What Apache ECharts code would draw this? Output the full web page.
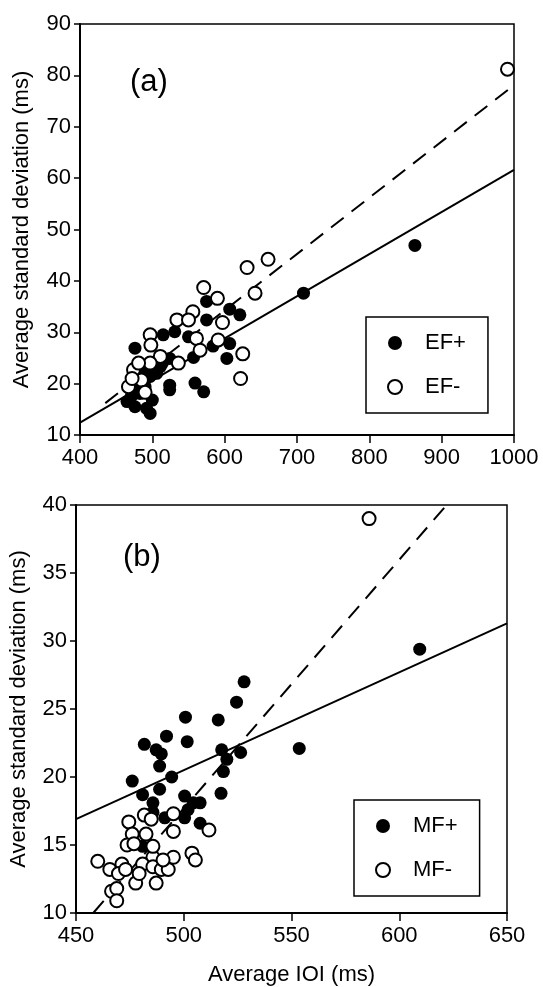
<!DOCTYPE html>
<html>
<head>
<meta charset="utf-8">
<script src="https://cdn.jsdelivr.net/npm/echarts@6/dist/echarts.min.js"></script>
<style>
  html, body { margin: 0; padding: 0; background: #fff; }
  #chart { width: 543px; height: 987px; }
</style>
</head>
<body>
<div id="chart"></div>
<script>
// panel (a): IOI vs SD, EF groups
const efPlus = [
  [863, 46.9], [709, 37.6], [575, 36.0], [575, 32.4], [607, 34.5], [621, 33.4],
  [584, 27.3], [607, 27.8], [603, 24.9], [557, 25.1], [515, 29.5], [531, 30.1],
  [550, 29.1], [476, 26.9], [524, 24.9], [511, 23.3], [524, 19.7], [524, 18.8],
  [559, 20.1], [571, 18.4], [497, 14.2], [492, 15.2], [476, 15.5], [465, 16.5],
  [483, 18.1], [488, 22.7], [497, 21.4], [506, 22.0], [478, 20.7], [490, 19.4],
  [471, 17.5], [500, 16.8], [481, 20.1], [514, 24.0]
];
const efMinus = [
  [991, 81.2], [660, 44.2], [631, 42.6], [571, 38.7], [642, 37.6], [590, 36.6],
  [556, 34.0], [534, 32.4], [550, 32.4], [597, 31.9], [497, 29.5], [498, 27.5],
  [561, 28.8], [591, 28.5], [625, 25.8], [622, 21.0], [467, 19.4], [474, 22.7],
  [511, 25.3], [566, 26.5], [536, 24.0], [485, 20.7], [497, 24.0], [481, 24.0],
  [472, 21.0], [490, 18.3]
];
// regression lines (end points)
const fitEfPlus = [[400, 12.4], [1000, 61.6]];
const fitEfMinus = [[435, 16.2], [1000, 78.1]];

// panel (b): IOI vs SD, MF groups
const mfPlus = [
  [609.5, 29.4], [553.6, 22.1], [528.0, 27.0], [524.5, 25.5], [516.0, 24.2],
  [500.8, 24.4], [501.6, 22.6], [517.6, 22.0], [526.4, 21.8], [520.0, 21.3],
  [518.4, 20.4], [517.3, 18.8], [476.1, 19.7], [481.7, 22.4], [487.2, 22.0],
  [492.0, 23.0], [489.6, 21.7], [488.8, 20.8], [494.4, 20.0], [488.8, 19.1],
  [480.9, 18.7], [485.7, 18.1], [500.4, 18.6], [504.4, 18.1], [507.6, 18.1],
  [491.2, 17.0], [500.4, 17.0], [507.6, 16.6], [485.7, 17.4], [480.9, 14.9],
  [502.0, 17.6]
];
const mfMinus = [
  [586.0, 39.0], [511.7, 16.1], [495.2, 16.0], [495.2, 17.3], [474.5, 16.7],
  [476.1, 15.8], [481.7, 17.2], [484.9, 16.9], [482.5, 15.8], [473.7, 15.0],
  [476.9, 15.1], [503.8, 14.4], [505.4, 13.9], [495.2, 14.1], [485.7, 14.1],
  [480.9, 13.6], [460.1, 13.8], [465.7, 13.2], [471.3, 13.6], [469.7, 12.9],
  [473.0, 13.2], [477.7, 12.2], [479.3, 12.9], [485.7, 13.4], [487.2, 12.2],
  [489.6, 13.2], [492.8, 13.2], [466.5, 11.6], [468.9, 11.8], [468.9, 10.9],
  [490.4, 13.9], [485.7, 14.9]
];
const fitMfPlus = [[450, 16.9], [650, 31.3]];
const fitMfMinus = [[458, 10.0], [622, 40.0]];

const yTitle = 'Average standard deviation (ms)';
const xTitle = 'Average IOI (ms)';

const FONT = 'Liberation Sans, Arial, Helvetica, sans-serif';
const black = '#000';

const chart = echarts.init(document.getElementById('chart'), null, { renderer: 'canvas' });

function valueAxis(gridIndex, min, max, interval, extra) {
  return Object.assign({
    type: 'value',
    gridIndex: gridIndex,
    min: min,
    max: max,
    interval: interval,
    splitLine: { show: false },
    axisLine: { show: true, lineStyle: { color: black, width: 2 } },
    axisTick: { show: true, length: 6, lineStyle: { color: black, width: 1.5 } },
    axisLabel: { color: black, fontSize: 22, fontFamily: FONT, margin: 9, formatter: v => String(v) }
  }, extra || {});
}

function scatter(name, data, idx, open) {
  return {
    name: name,
    type: 'scatter',
    xAxisIndex: idx,
    yAxisIndex: idx,
    data: data,
    symbol: 'circle',
    symbolSize: 13,
    itemStyle: open
      ? { color: '#fff', borderColor: black, borderWidth: 2, opacity: 1 }
      : { color: black, opacity: 1 },
    z: open ? 4 : 3
  };
}

function fitLine(data, idx, dashed) {
  return {
    type: 'line',
    xAxisIndex: idx,
    yAxisIndex: idx,
    data: data,
    showSymbol: false,
    silent: true,
    lineStyle: { color: black, width: 2, type: dashed ? [16, 10] : 'solid' },
    z: 2
  };
}

function legendBox(names, left, top) {
  return {
    data: names,
    orient: 'vertical',
    left: left,
    top: top,
    padding: [15, 22, 15, 21],
    itemWidth: 50,
    itemHeight: 14,
    itemGap: 22,
    selectedMode: false,
    borderColor: black,
    borderWidth: 1.5,
    textStyle: { color: black, fontSize: 22, fontFamily: FONT }
  };
}

const xTick = { show: true, length: 8, lineStyle: { color: black, width: 1.5 } };
const xLabel = { color: black, fontSize: 22, fontFamily: FONT, margin: 12, formatter: v => String(v) };
const nameStyle = { color: black, fontSize: 22, fontFamily: FONT };

const option = {
  backgroundColor: '#fff',
  animation: false,
  title: [
    { text: '(a)', left: 125, top: 62, textStyle: { color: black, fontSize: 31, fontWeight: 'normal', fontFamily: FONT } },
    { text: '(b)', left: 118, top: 537, textStyle: { color: black, fontSize: 31, fontWeight: 'normal', fontFamily: FONT } }
  ],
  grid: [
    { left: 80, top: 24, width: 434, height: 411, show: true, borderColor: black, borderWidth: 1.5, backgroundColor: 'transparent' },
    { left: 76, top: 505, width: 431, height: 409, show: true, borderColor: black, borderWidth: 1.5, backgroundColor: 'transparent' }
  ],
  legend: [
    legendBox(['EF+', 'EF-'], 366, 317),
    legendBox(['MF+', 'MF-'], 354, 800)
  ],
  xAxis: [
    valueAxis(0, 400, 1000, 100, { axisTick: xTick, axisLabel: xLabel }),
    valueAxis(1, 450, 650, 50, {
      axisTick: xTick,
      axisLabel: xLabel,
      name: xTitle, nameLocation: 'middle', nameGap: 51,
      nameTextStyle: nameStyle
    })
  ],
  yAxis: [
    valueAxis(0, 10, 90, 10, {
      name: yTitle, nameLocation: 'middle', nameGap: 47, nameRotate: 90,
      nameTextStyle: nameStyle
    }),
    valueAxis(1, 10, 40, 5, {
      name: yTitle, nameLocation: 'middle', nameGap: 46, nameRotate: 90,
      nameTextStyle: nameStyle
    })
  ],
  series: [
    fitLine(fitEfPlus, 0, false),
    fitLine(fitEfMinus, 0, true),
    scatter('EF+', efPlus, 0, false),
    scatter('EF-', efMinus, 0, true),
    fitLine(fitMfPlus, 1, false),
    fitLine(fitMfMinus, 1, true),
    scatter('MF+', mfPlus, 1, false),
    scatter('MF-', mfMinus, 1, true)
  ]
};

chart.setOption(option);
</script>
</body>
</html>
